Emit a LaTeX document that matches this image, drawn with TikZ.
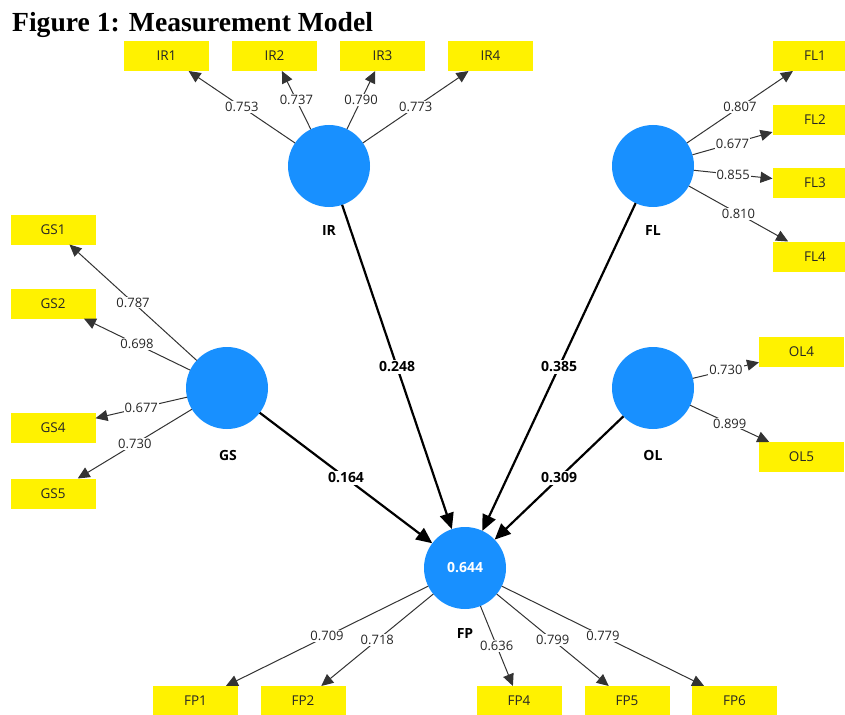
\documentclass[tikz,border=0pt]{standalone}
\usepackage{fontspec}
\setmainfont{Open Sans}
\newfontfamily\titlefont{Liberation Serif}
\usetikzlibrary{arrows.meta}
\definecolor{lvblue}{RGB}{24,144,255}
\begin{document}
\begin{tikzpicture}[x=1pt,y=-1pt,
  lv/.style={circle,fill=lvblue,minimum size=82pt,inner sep=0pt,outer sep=0pt},
  ind/.style={rectangle,fill=yellow,minimum width=85pt,minimum height=30pt,inner sep=0pt,outer sep=0pt,font=\fontsize{13.5}{15}\selectfont,text=black!85},
  lvlab/.style={font=\bfseries\fontsize{14}{16}\selectfont},
  load/.style={draw=black!80,line width=1pt,-{Triangle[length=12pt,width=11pt]}},
  struct/.style={draw=black,line width=2.2pt,-{Triangle[length=16pt,width=14pt]}},
  wl/.style={fill=white,inner sep=1pt,text=black!85,font=\fontsize{13}{15}\selectfont},
  bl/.style={fill=white,inner sep=1.5pt,font=\bfseries\fontsize{14}{16}\selectfont}]
\useasboundingbox (0,0) rectangle (845,714);

% title
\node[anchor=base west,inner sep=0pt,font=\titlefont\bfseries\fontsize{27.6}{30}\selectfont] (title) at (12,32) {Figure 1: Measurement Model};

% latent variables
\node[lv] (IR) at (329,166) {};
\node[lv] (FL) at (653,166) {};
\node[lv] (GS) at (227,388) {};
\node[lv] (OL) at (653,388) {};
\node[lv,text=white,font=\bfseries\fontsize{14}{16}\selectfont] (FP) at (465,568) {0.644};

\node[lvlab] (IRl) at (329,231) {IR};
\node[lvlab] (FLl) at (653,231) {FL};
\node[lvlab] (GSl) at (228,455) {GS};
\node[lvlab] (OLl) at (653,455) {OL};
\node[lvlab] (FPl) at (465,633) {FP};

% indicators
\node[ind] (IR1) at (166.5,56) {IR1};
\node[ind] (IR2) at (274.5,56) {IR2};
\node[ind] (IR3) at (382.5,56) {IR3};
\node[ind] (IR4) at (490.5,56) {IR4};

\node[ind] (FL1) at (815,56) {FL1};
\node[ind] (FL2) at (815,120) {FL2};
\node[ind] (FL3) at (815,183) {FL3};
\node[ind] (FL4) at (815,256.5) {FL4};

\node[ind] (GS1) at (53,229.5) {GS1};
\node[ind] (GS2) at (53,303.5) {GS2};
\node[ind] (GS4) at (53,428) {GS4};
\node[ind] (GS5) at (53,493.5) {GS5};

\node[ind] (OL4) at (801.5,352) {OL4};
\node[ind] (OL5) at (801.5,457) {OL5};

\node[ind] (FP1) at (195.5,701) {FP1};
\node[ind] (FP2) at (303,701) {FP2};
\node[ind] (FP4) at (519,701) {FP4};
\node[ind] (FP5) at (627,701) {FP5};
\node[ind] (FP6) at (734.5,701) {FP6};

% loadings
\draw[load] (IR) -- node[wl] {0.753} (IR1);
\draw[load] (IR) -- node[wl] {0.737} (IR2);
\draw[load] (IR) -- node[wl] {0.790} (IR3);
\draw[load] (IR) -- node[wl] {0.773} (IR4);

\draw[load] (FL) -- node[wl] {0.807} (FL1);
\draw[load] (FL) -- node[wl] {0.677} (FL2);
\draw[load] (FL) -- node[wl] {0.855} (FL3);
\draw[load] (FL) -- node[wl] {0.810} (FL4);

\draw[load] (GS) -- node[wl] {0.787} (GS1);
\draw[load] (GS) -- node[wl] {0.698} (GS2);
\draw[load] (GS) -- node[wl] {0.677} (GS4);
\draw[load] (GS) -- node[wl] {0.730} (GS5);

\draw[load] (OL) -- node[wl] {0.730} (OL4);
\draw[load] (OL) -- node[wl] {0.899} (OL5);

\draw[load] (FP) -- node[wl] {0.709} (FP1);
\draw[load] (FP) -- node[wl] {0.718} (FP2);
\draw[load] (FP) -- node[wl] {0.636} (FP4);
\draw[load] (FP) -- node[wl] {0.799} (FP5);
\draw[load] (FP) -- node[wl] {0.779} (FP6);

% structural paths
\draw[struct] (IR) -- node[bl] {0.248} (FP);
\draw[struct] (FL) -- node[bl] {0.385} (FP);
\draw[struct] (GS) -- node[bl] {0.164} (FP);
\draw[struct] (OL) -- node[bl] {0.309} (FP);
\end{tikzpicture}
\end{document}
